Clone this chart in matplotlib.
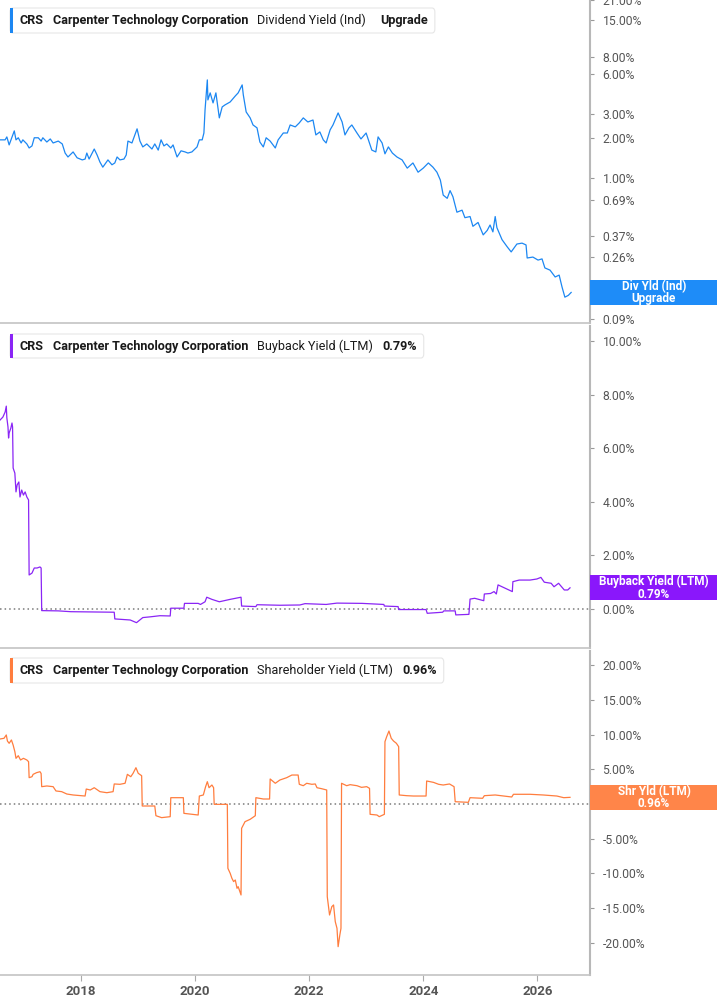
import matplotlib
matplotlib.use('Agg')
import matplotlib.pyplot as plt
from matplotlib.patches import FancyBboxPatch, Rectangle

plt.rcParams['font.family'] = ['Roboto', 'DejaVu Sans']

# dividend yield (Ind), % -- decimal years
div_t = [2016.59, 2016.68, 2016.71, 2016.75, 2016.84, 2016.87, 2016.91, 2016.96, 2016.99, 2017.06,
         2017.10, 2017.15, 2017.19, 2017.26, 2017.31, 2017.34, 2017.41, 2017.47, 2017.52, 2017.61,
         2017.68, 2017.73, 2017.78, 2017.87, 2017.94, 2018.03, 2018.08, 2018.11, 2018.15, 2018.24,
         2018.29, 2018.34, 2018.39, 2018.48, 2018.55, 2018.60, 2018.64, 2018.69, 2018.76, 2018.80,
         2018.83, 2018.90, 2018.99, 2019.04, 2019.09, 2019.16, 2019.25, 2019.30, 2019.36, 2019.41,
         2019.46, 2019.51, 2019.58, 2019.62, 2019.69, 2019.76, 2019.83, 2019.88, 2019.95, 2020.04,
         2020.08, 2020.13, 2020.16, 2020.18, 2020.22, 2020.23, 2020.27, 2020.32, 2020.37, 2020.43,
         2020.48, 2020.53, 2020.62, 2020.71, 2020.76, 2020.83, 2020.85, 2020.90, 2020.97, 2021.02,
         2021.09, 2021.14, 2021.20, 2021.25, 2021.32, 2021.41, 2021.46, 2021.55, 2021.62, 2021.67,
         2021.76, 2021.83, 2021.90, 2021.98, 2022.07, 2022.12, 2022.19, 2022.25, 2022.30, 2022.37,
         2022.42, 2022.51, 2022.58, 2022.63, 2022.70, 2022.75, 2022.84, 2022.91, 2023.00, 2023.10,
         2023.17, 2023.21, 2023.28, 2023.33, 2023.39, 2023.46, 2023.54, 2023.63, 2023.72, 2023.82,
         2023.91, 2024.00, 2024.09, 2024.17, 2024.24, 2024.30, 2024.35, 2024.42, 2024.47, 2024.52,
         2024.59, 2024.68, 2024.73, 2024.82, 2024.87, 2024.96, 2025.05, 2025.12, 2025.17, 2025.22,
         2025.26, 2025.29, 2025.38, 2025.47, 2025.54, 2025.64, 2025.73, 2025.80, 2025.82, 2025.92,
         2026.01, 2026.08, 2026.13, 2026.22, 2026.31, 2026.38, 2026.43, 2026.48, 2026.54, 2026.59]
div_v = [1.93, 1.93, 2.03, 1.77, 2.25, 1.93, 2.00, 1.83, 1.93, 1.80,
         1.68, 1.74, 2.00, 2.00, 1.89, 2.00, 1.86, 1.96, 1.83, 1.89,
         1.80, 1.54, 1.44, 1.57, 1.42, 1.37, 1.39, 1.54, 1.39, 1.65,
         1.49, 1.32, 1.21, 1.37, 1.26, 1.30, 1.44, 1.37, 1.39, 1.49,
         1.89, 1.83, 2.33, 1.89, 1.71, 1.80, 1.65, 1.80, 1.62, 1.93,
         1.74, 1.80, 1.68, 1.77, 1.44, 1.60, 1.57, 1.54, 1.57, 1.71,
         1.93, 1.93, 2.17, 3.22, 5.38, 3.82, 4.31, 3.63, 4.31, 2.81,
         3.39, 3.51, 3.69, 4.09, 4.31, 4.94, 4.16, 3.11, 2.81, 2.49,
         2.37, 1.86, 1.71, 2.00, 1.89, 1.68, 1.93, 2.17, 2.17, 2.49,
         2.41, 2.58, 2.81, 2.62, 2.71, 2.10, 2.21, 1.93, 1.83, 2.29,
         2.49, 3.06, 2.62, 2.10, 2.37, 2.49, 2.17, 1.96, 2.17, 1.62,
         1.57, 2.03, 1.83, 1.52, 1.71, 1.54, 1.44, 1.37, 1.19, 1.30,
         1.11, 1.19, 1.30, 1.21, 1.11, 0.97, 0.75, 0.71, 0.81, 0.73,
         0.56, 0.58, 0.51, 0.52, 0.44, 0.47, 0.38, 0.41, 0.45, 0.40,
         0.52, 0.43, 0.35, 0.31, 0.284, 0.325, 0.33, 0.32, 0.256, 0.26,
         0.247, 0.252, 0.216, 0.208, 0.185, 0.191, 0.156, 0.131, 0.135, 0.142]

# buyback yield (LTM), %
bb_t = [2016.59, 2016.64, 2016.68, 2016.70, 2016.71, 2016.73, 2016.74, 2016.75, 2016.78, 2016.80,
        2016.81, 2016.82, 2016.85, 2016.87, 2016.89, 2016.92, 2016.94, 2016.97, 2017.00, 2017.03,
        2017.06, 2017.09, 2017.10, 2017.15, 2017.19, 2017.24, 2017.29, 2017.31, 2017.32, 2017.61,
        2017.83, 2018.59, 2018.60, 2018.87, 2018.98, 2019.09, 2019.23, 2019.39, 2019.57, 2019.58,
        2019.81, 2019.82, 2020.06, 2020.10, 2020.18, 2020.21, 2020.30, 2020.43, 2020.62, 2020.81,
        2020.82, 2021.07, 2021.09, 2021.49, 2021.84, 2021.93, 2022.30, 2022.49, 2022.93, 2023.31,
        2023.32, 2023.56, 2023.57, 2024.05, 2024.07, 2024.34, 2024.36, 2024.56, 2024.57, 2024.80,
        2024.82, 2024.90, 2025.06, 2025.07, 2025.18, 2025.24, 2025.28, 2025.31, 2025.40, 2025.56,
        2025.57, 2025.68, 2025.87, 2025.99, 2026.06, 2026.12, 2026.24, 2026.29, 2026.37, 2026.47,
        2026.53, 2026.57]
bb_v = [7.05, 7.16, 7.35, 7.57, 7.13, 6.79, 6.38, 6.57, 6.75, 6.94,
        6.79, 5.26, 5.07, 4.37, 4.63, 4.74, 4.18, 4.44, 4.25, 4.37,
        4.18, 4.07, 1.27, 1.34, 1.53, 1.53, 1.57, 1.53, -0.06, -0.07,
        -0.10, -0.12, -0.37, -0.41, -0.51, -0.32, -0.29, -0.25, -0.26, 0.03,
        0.03, 0.21, 0.21, 0.17, 0.27, 0.44, 0.36, 0.27, 0.36, 0.44,
        0.11, 0.09, 0.16, 0.14, 0.15, 0.20, 0.17, 0.22, 0.21, 0.17,
        0.11, 0.09, -0.02, -0.02, -0.16, -0.12, -0.07, -0.07, -0.22, -0.20,
        0.37, 0.40, 0.31, 0.56, 0.58, 0.65, 0.56, 0.90, 0.81, 0.65,
        1.02, 1.08, 1.08, 1.12, 1.18, 1.00, 0.96, 0.83, 0.96, 0.71,
        0.71, 0.79]

# shareholder yield (LTM), %
sh_t = [2016.59, 2016.66, 2016.70, 2016.72, 2016.75, 2016.79, 2016.82, 2016.85, 2016.87, 2016.91,
        2016.95, 2017.00, 2017.06, 2017.09, 2017.10, 2017.15, 2017.17, 2017.23, 2017.29, 2017.31,
        2017.32, 2017.41, 2017.52, 2017.57, 2017.67, 2017.76, 2017.87, 2018.08, 2018.10, 2018.17,
        2018.24, 2018.34, 2018.46, 2018.57, 2018.59, 2018.69, 2018.78, 2018.82, 2018.88, 2018.92,
        2018.97, 2019.01, 2019.07, 2019.08, 2019.30, 2019.32, 2019.42, 2019.57, 2019.58, 2019.80,
        2019.81, 2020.06, 2020.08, 2020.15, 2020.19, 2020.22, 2020.25, 2020.30, 2020.33, 2020.34,
        2020.57, 2020.58, 2020.62, 2020.65, 2020.68, 2020.71, 2020.74, 2020.76, 2020.81, 2020.82,
        2020.88, 2020.97, 2021.06, 2021.07, 2021.20, 2021.31, 2021.32, 2021.41, 2021.49, 2021.61,
        2021.70, 2021.81, 2021.83, 2021.90, 2021.96, 2022.05, 2022.11, 2022.14, 2022.22, 2022.31,
        2022.32, 2022.36, 2022.40, 2022.43, 2022.46, 2022.49, 2022.51, 2022.54, 2022.56, 2022.57,
        2022.66, 2022.72, 2022.84, 2022.92, 2023.01, 2023.06, 2023.07, 2023.19, 2023.23, 2023.32,
        2023.33, 2023.36, 2023.40, 2023.44, 2023.48, 2023.53, 2023.57, 2023.58, 2023.71, 2023.83,
        2024.05, 2024.06, 2024.18, 2024.27, 2024.35, 2024.46, 2024.54, 2024.56, 2024.79, 2024.82,
        2025.04, 2025.07, 2025.26, 2025.55, 2025.58, 2025.87, 2026.10, 2026.34, 2026.46, 2026.57]
sh_v = [9.38, 9.48, 9.96, 9.09, 8.76, 9.24, 8.51, 7.55, 6.59, 6.97,
        6.35, 6.59, 6.35, 6.11, 3.80, 3.94, 4.28, 4.52, 4.66, 4.40,
        2.50, 2.60, 2.50, 1.88, 1.78, 1.44, 1.30, 1.15, 2.16, 2.02,
        2.35, 1.78, 1.63, 1.78, 2.89, 2.84, 2.99, 4.28, 3.94, 4.43,
        5.24, 4.43, 4.08, -0.29, -0.29, -1.69, -1.97, -1.83, 0.91, 0.91,
        -1.35, -1.59, 1.15, 1.30, 2.50, 3.22, 2.35, 2.74, 2.35, -0.05,
        -0.05, -9.28, -10.00, -10.72, -11.20, -10.97, -12.17, -11.93, -13.13, -3.51,
        -2.55, -2.21, -1.69, 0.91, 0.72, 0.72, 3.61, 2.99, 3.46, 3.80,
        4.18, 4.18, 2.84, 2.64, 2.99, 2.84, 2.89, 2.35, 2.21, 2.02,
        -13.37, -16.02, -14.81, -14.57, -16.98, -17.94, -20.59, -18.90, -17.94, 2.99,
        2.64, 2.79, 2.64, 2.40, 2.50, 2.26, -1.49, -1.59, -1.83, -1.49,
        8.99, 9.71, 10.53, 9.48, 9.09, 8.76, 8.27, 1.30, 1.20, 1.15,
        1.15, 3.32, 3.12, 2.84, 2.74, 2.89, 2.50, 0.33, 0.24, 0.91,
        0.82, 1.20, 1.30, 1.01, 1.40, 1.40, 1.30, 1.15, 0.91, 0.96]

div_ticks = [21, 15, 8, 6, 3, 2, 1, 0.69, 0.37, 0.26, 0.14, 0.09]
bb_ticks = [0, 2, 4, 6, 8, 10]
sh_ticks = [-20, -15, -10, -5, 0, 5, 10, 15, 20]
year_ticks = [2018, 2020, 2022, 2024, 2026]

W, H = 717, 1005
BLUE, PURPLE, ORANGE = '#1c87f2', '#8a25f5', '#ff7d3e'
BLUE_B, PURPLE_B, ORANGE_B = '#1e8cf8', '#8a17fb', '#ff8549'

fig = plt.figure(figsize=(W / 100, H / 100), dpi=100)


def fx(px):
    return px / W


def fy(py):
    return 1 - py / H


def make_ax(top, bottom):
    ax = fig.add_axes([0, fy(bottom), fx(590), (bottom - top) / H])
    for s in ('top', 'left'):
        ax.spines[s].set_visible(False)
    ax.spines['right'].set_color('#b8b8b8')
    ax.spines['right'].set_linewidth(1.5)
    ax.spines['bottom'].set_color('#c4c4c4')
    ax.spines['bottom'].set_linewidth(1.2)
    ax.yaxis.tick_right()
    ax.tick_params(axis='y', which='both', length=3, color='#999999', labelcolor='#555555',
                   labelsize=8.7, pad=6)
    ax.tick_params(axis='x', which='both', bottom=False, labelbottom=False)
    ax.set_xlim(2016.59, 2026.92)
    return ax


ax1 = make_ax(0, 323)
ax2 = make_ax(326, 648)
ax3 = make_ax(651, 975)

ax1.plot(div_t, div_v, color=BLUE, lw=0.9)
ax1.set_yscale('log')
ax1.set_ylim(0.0842, 21.1)
ax1.minorticks_off()
ax1.set_yticks(div_ticks)
ax1.set_yticklabels(['%.2f%%' % v for v in div_ticks])

ax2.plot(bb_t, bb_v, color=PURPLE, lw=0.9)
ax2.axhline(0, color='#7a7a7a', lw=1.1, ls=(0, (1, 2)), zorder=0)
ax2.set_ylim(-1.455, 10.56)
ax2.set_yticks(bb_ticks)
ax2.set_yticklabels(['%.2f%%' % v for v in bb_ticks])

ax3.plot(sh_t, sh_v, color=ORANGE, lw=0.9)
ax3.axhline(0, color='#7a7a7a', lw=1.1, ls=(0, (1, 2)), zorder=0)
ax3.set_ylim(-24.68, 22.08)
ax3.set_yticks(sh_ticks)
ax3.set_yticklabels(['%.2f%%' % v for v in sh_ticks])
ax3.set_xticks(year_ticks)
ax3.set_xticklabels([str(y) for y in year_ticks])
ax3.tick_params(axis='x', bottom=True, labelbottom=True, length=4, color='#aaaaaa',
                labelcolor='#555555', labelsize=9.5, pad=3)
for lab in ax3.get_xticklabels():
    lab.set_fontweight('bold')


def badge(ax, val, text, color):
    yd = ax.transData.transform((2020, val))[1]
    fig.patches.append(Rectangle((fx(590), (yd - 12.5) / H), (W - 590) / W, 25 / H,
                                 transform=fig.transFigure, fc=color, ec='none', zorder=5))
    fig.text(fx(654), yd / H, text, ha='center', va='center', color='white', fontsize=8.5,
             fontweight='bold', linespacing=0.95, zorder=6)


badge(ax1, div_v[-1], 'Div Yld (Ind)\nUpgrade', BLUE_B)
badge(ax2, bb_v[-1], 'Buyback Yield (LTM)\n0.79%', PURPLE_B)
badge(ax3, sh_v[-1], 'Shr Yld (LTM)\n0.96%', ORANGE_B)

renderer = fig.canvas.get_renderer()


def legend_box(top, bottom, color, parts):
    yc = fy((top + bottom) / 2)
    x = 20
    for s, bold, gap in parts:
        t = fig.text(fx(x), yc, s, ha='left', va='center', fontsize=9.1, color='#1a1a1a',
                     fontweight='bold' if bold else 'normal', zorder=7)
        x += t.get_window_extent(renderer).width + gap
    right = x + 7
    fig.patches.append(FancyBboxPatch((fx(10), fy(bottom)), fx(right - 10), (bottom - top) / H,
                                      boxstyle='round,pad=0,rounding_size=0.004',
                                      transform=fig.transFigure, fc='white', ec='#e6e6e6',
                                      lw=0.8, zorder=5))
    fig.patches.append(Rectangle((fx(10), fy(bottom)), 3 / W, (bottom - top) / H,
                                 transform=fig.transFigure, fc=color, ec='none', zorder=6))


legend_box(8, 33, BLUE, [('CRS', True, 9), ('Carpenter Technology Corporation', True, 9),
                         ('Dividend Yield (Ind)', False, 14), ('Upgrade', True, 0)])
legend_box(334, 358, PURPLE, [('CRS', True, 9), ('Carpenter Technology Corporation', True, 9),
                              ('Buyback Yield (LTM)', False, 9), ('0.79%', True, 0)])
legend_box(658, 683, ORANGE, [('CRS', True, 9), ('Carpenter Technology Corporation', True, 9),
                              ('Shareholder Yield (LTM)', False, 9), ('0.96%', True, 0)])

fig.savefig('out.png', dpi=100)
